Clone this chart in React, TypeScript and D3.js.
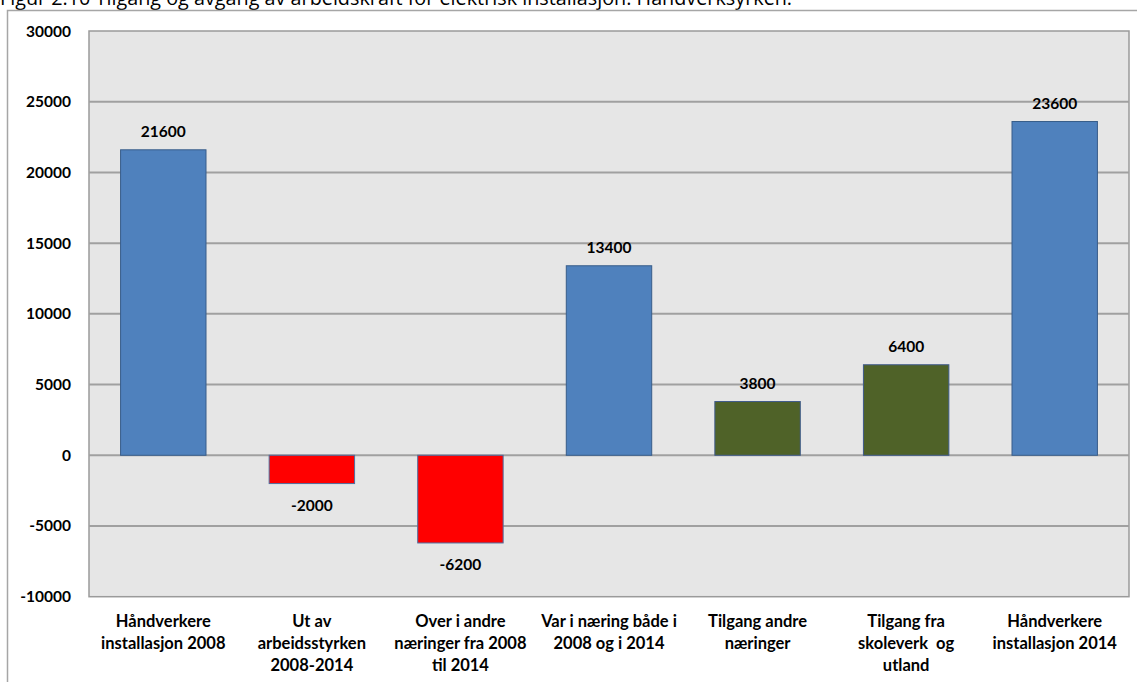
import React from "react";
import * as d3 from "d3";

const title = "Figur 2.10 Tilgang og avgang av arbeidskraft for elektrisk installasjon. Håndverksyrken.";
const categories: string[][] = [
  ["Håndverkere", "installasjon 2008"],
  ["Ut av", "arbeidsstyrken", "2008-2014"],
  ["Over i andre", "næringer fra 2008", "til 2014"],
  ["Var i næring både i", "2008 og i 2014"],
  ["Tilgang andre", "næringer"],
  ["Tilgang fra", "skoleverk  og", "utland"],
  ["Håndverkere", "installasjon 2014"],
];
const values = [21600, -2000, -6200, 13400, 3800, 6400, 23600];
const kinds = ["total", "loss", "loss", "total", "gain", "gain", "total"];
const yTicks = [-10000, -5000, 0, 5000, 10000, 15000, 20000, 25000, 30000];

const fills: Record<string, string> = { total: "#4f81bd", loss: "#ff0000", gain: "#4f6228" };
const strokes: Record<string, string> = { total: "#385d8a", loss: "#4f6fa0", gain: "#3f5a8a" };

export default function App() {
  const W = 1137, H = 682;
  const left = 89, right = 1129, top = 31, bottom = 596.7;
  const x = d3.scaleBand<number>().domain(d3.range(values.length)).range([left, right]).paddingInner(0.425).paddingOuter(0.2125);
  const y = d3.scaleLinear().domain([-10000, 30000]).range([bottom, top]);
  const font = "Lato, 'Open Sans', sans-serif";
  return (
    <svg width={W} height={H} style={{ position: "absolute", left: 0, top: 0, background: "#fff" }}>
      <text x={0} y={5} fontFamily="'Open Sans', sans-serif" fontSize={19.8} fill="#000">{title}</text>
      <rect x={7.5} y={10.5} width={W + 10} height={H + 10} fill="#fff" stroke="#a6a6a6" strokeWidth={1.5} />
      <rect x={left} y={top} width={right - left} height={bottom - top} fill="#e6e6e6" stroke="#9a9a9a" strokeWidth={1.5} />
      {yTicks.map((t) => (
        <g key={t}>
          {t !== -10000 && t !== 30000 && (
            <line x1={left} x2={right} y1={y(t)} y2={y(t)} stroke="#a0a0a0" strokeWidth={2} />
          )}
          <text x={71} y={y(t) + 5.5} textAnchor="end" fontFamily={font} fontWeight={700} fontSize={15.5} fill="#000">{t}</text>
        </g>
      ))}
      {values.map((v, i) => {
        const x0 = x(i)!;
        const y0 = y(Math.max(0, v));
        const h = Math.abs(y(v) - y(0));
        const cx = x0 + x.bandwidth() / 2;
        const ly = v >= 0 ? y(v) - 13 : y(v) + 27;
        return (
          <g key={i}>
            <rect x={x0} y={y0} width={x.bandwidth()} height={h} fill={fills[kinds[i]]} stroke={strokes[kinds[i]]} strokeWidth={1} />
            <text x={cx} y={ly} textAnchor="middle" fontFamily={font} fontWeight={700} fontSize={15.5} fill="#000">{v}</text>
            {categories[i].map((line, j) => (
              <text key={j} x={cx} y={627 + j * 22} textAnchor="middle" fontFamily={font} fontWeight={700} fontSize={16.5} fill="#000" style={{ whiteSpace: "pre" }}>{line}</text>
            ))}
          </g>
        );
      })}
    </svg>
  );
}
